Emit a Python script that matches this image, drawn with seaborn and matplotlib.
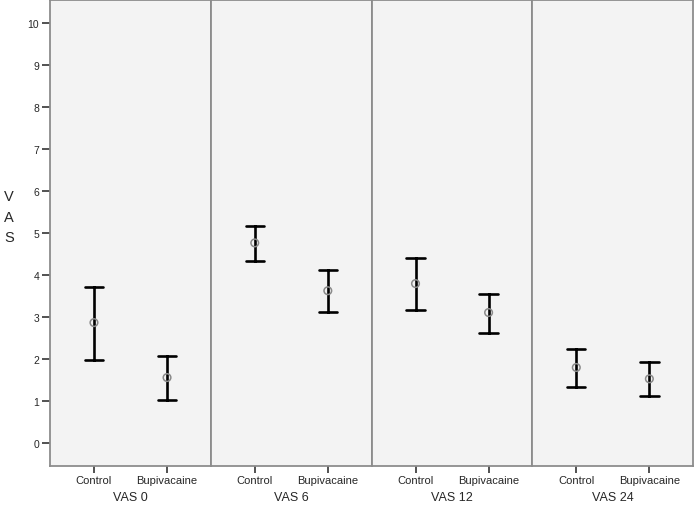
import matplotlib
matplotlib.use("Agg")
import matplotlib.pyplot as plt
import seaborn as sns
import pandas as pd

# values (mean with lower / upper error bar ends)
times = ['VAS 0', 'VAS 6', 'VAS 12', 'VAS 24']
groups = ['Control', 'Bupivacaine']
mean_control = [2.86, 4.76, 3.79, 1.79]
low_control = [1.98, 4.33, 3.17, 1.33]
high_control = [3.71, 5.17, 4.40, 2.24]
mean_bupi = [1.55, 3.62, 3.10, 1.52]
low_bupi = [1.02, 3.12, 2.62, 1.12]
high_bupi = [2.07, 4.12, 3.55, 1.93]

rows = []
for i, t in enumerate(times):
    for g, m, lo, hi in [('Control', mean_control[i], low_control[i], high_control[i]),
                         ('Bupivacaine', mean_bupi[i], low_bupi[i], high_bupi[i])]:
        for kind, v in [('low', lo), ('mean', m), ('high', hi)]:
            rows.append({'Time': t, 'Group': g, 'kind': kind, 'VAS': v})
df = pd.DataFrame(rows)

sns.set_style('white')
plt.rcParams['font.family'] = ['Liberation Sans', 'DejaVu Sans']

fig, axes = plt.subplots(1, 4, figsize=(6.96, 5.10), dpi=100, sharey=True)
fig.subplots_adjust(left=0.072, right=0.996, top=0.998, bottom=0.085, wspace=0)

for ax, t in zip(axes, times):
    sub = df[df['Time'] == t]
    sns.pointplot(data=sub, x='Group', y='VAS', order=groups,
                  estimator='median', errorbar=lambda v: (v.min(), v.max()),
                  color='black', markers='', linestyle='none', capsize=0.25,
                  err_kws={'linewidth': 1.9}, ax=ax)
    means = sub[sub['kind'] == 'mean']
    sns.scatterplot(data=means, x='Group', y='VAS', marker='o', s=30,
                    facecolor='none', edgecolor='#8a8a8a', linewidth=1.1,
                    ax=ax, zorder=5)
    ax.set_facecolor('#f3f3f3')
    ax.set_xlim(-0.6, 1.6)
    ax.set_ylim(-0.55, 10.55)
    ax.set_xlabel(t, fontsize=9, labelpad=4)
    ax.set_ylabel('')
    for s in ax.spines.values():
        s.set_color('#8c8c8c')
        s.set_linewidth(1.3)
    ax.tick_params(axis='x', bottom=True, length=5, width=1.2, color='#333333',
                   labelsize=8, pad=2)
    ax.tick_params(axis='y', left=False)

axes[0].set_yticks(range(0, 11))
axes[0].tick_params(axis='y', left=True, length=6, width=1.2, color='#333333',
                    labelsize=7.5, pad=2)
fig.text(0.013, 0.573, 'V\nA\nS', fontsize=10.5, ha='center', va='center',
         linespacing=1.6)

plt.savefig('out.png', dpi=100)
